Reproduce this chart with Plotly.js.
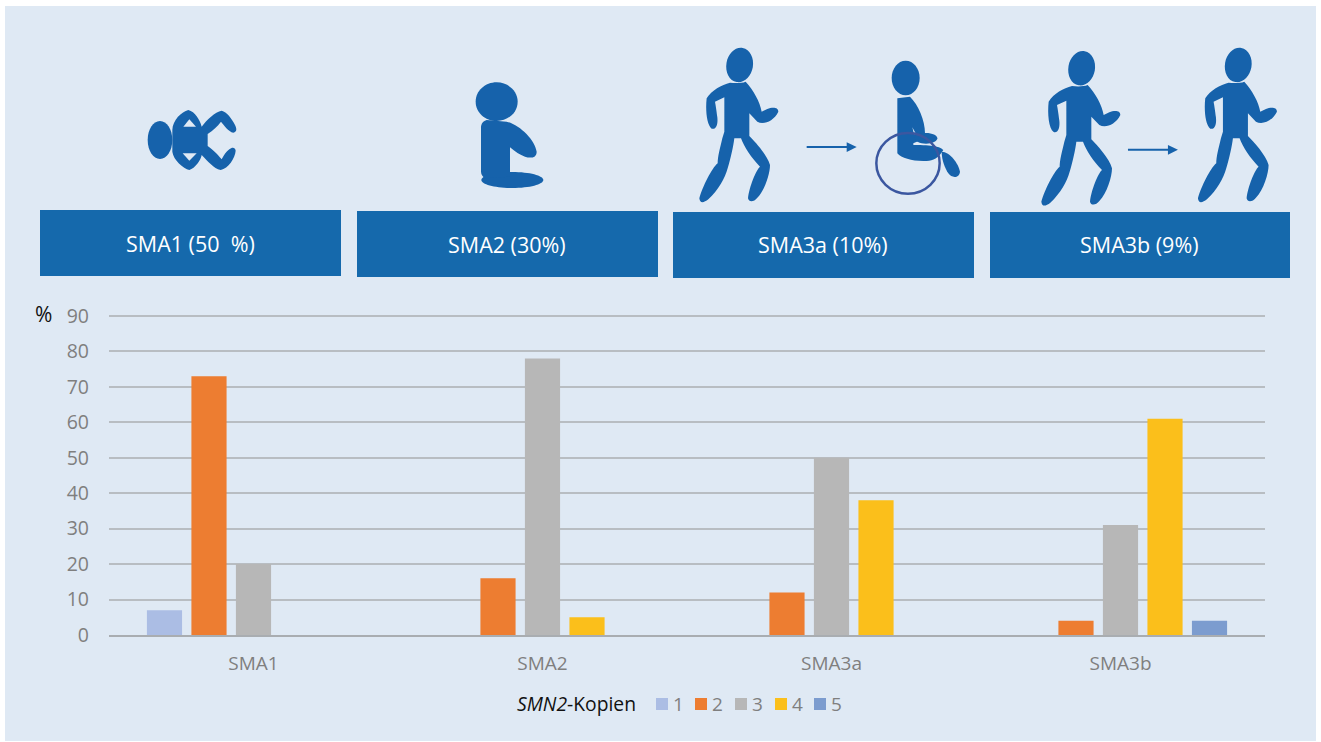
<!DOCTYPE html>
<html><head><meta charset="utf-8">
<script src="https://cdn.plot.ly/plotly-3.0.1.min.js"></script>
<style>html,body{margin:0;padding:0;background:#fff}#c{width:1321px;height:742px}</style>
</head><body><div id="c"></div>
<script>
const categories = ['SMA1','SMA2','SMA3a','SMA3b'];
const copies1 = [7,null,null,null];
const copies2 = [73,16,12,4];
const copies3 = [20,78,50,31];
const copies4 = [null,5,38,61];
const copies5 = [null,null,null,4];
const seriesNames = ['1','2','3','4','5'];
const seriesColors = ['#abbde4','#ed7d31','#b7b7b7','#fbbf1b','#7c9ccf'];
const headerLabels = ['SMA1 (50  %)','SMA2 (30%)','SMA3a (10%)','SMA3b (9%)'];
const tickVals = [0,10,20,30,40,50,60,70,80,90];

const W=1321,H=742,L=109,R=1265,T=312,B=635;
const BG='#dfe9f4',BLUE='#1662ab',HDR='#1569ac';
const fx=x=>(x-L)/(R-L), fy=y=>(B-y)/(B-T);
// path given in crop coordinates (3x, origin ox,oy), converted to paper fractions
function conv(d,ox,oy){
  return d.replace(/(-?[\d.]+)[ ,]+(-?[\d.]+)/g,(m,a,b)=>fx(ox+a/3)+','+fy(oy+b/3));
}
function ell(cx,cy,rx,ry,rot){
  const k=0.5523,r=(rot||0)*Math.PI/180,c=Math.cos(r),s=Math.sin(r);
  const p=(u,v)=>(cx+u*c-v*s)+' '+(cy+u*s+v*c);
  return 'M'+p(rx,0)+'C'+p(rx,k*ry)+' '+p(k*rx,ry)+' '+p(0,ry)+
    'C'+p(-k*rx,ry)+' '+p(-rx,k*ry)+' '+p(-rx,0)+
    'C'+p(-rx,-k*ry)+' '+p(-k*rx,-ry)+' '+p(0,-ry)+
    'C'+p(k*rx,-ry)+' '+p(rx,-k*ry)+' '+p(rx,0)+'Z';
}
const shapes=[];
function fill(d,ox,oy,col){shapes.push({type:'path',xref:'paper',yref:'paper',path:conv(d,ox,oy),fillcolor:col||BLUE,line:{width:0},layer:'below'});}
function stroke(d,ox,oy,col,w){shapes.push({type:'path',xref:'paper',yref:'paper',path:conv(d,ox,oy),fillcolor:'rgba(0,0,0,0)',line:{color:col,width:w},layer:'below'});}
function rect(x0,y0,x1,y1,col){shapes.push({type:'rect',xref:'paper',yref:'paper',x0:fx(x0),x1:fx(x1),y0:fy(y1),y1:fy(y0),fillcolor:col,line:{width:0},layer:'below'});}

rect(5,6,1316,741,BG);
[[40,210,341,276],[357,211,658,277],[673,212,974,278],[990,212,1290,278]].forEach(r=>rect(r[0],r[1],r[2],r[3],HDR));

// fetus
fill(ell(180,330,37,57,0),100,30);
fill('M265 240C245 245 218 270 217 300L217 365C220 390 250 415 268 420C285 415 303 390 305 375C325 395 340 415 362 420C385 415 405 385 407 362C405 350 395 352 388 358C378 365 372 375 365 388C350 370 340 360 323 348L323 312C340 300 352 290 363 275C372 285 385 305 400 308C412 305 410 295 405 285C395 265 380 245 365 242C345 245 320 270 305 290C300 270 285 245 265 240Z',100,30);
fill('M268 268L250 290L288 290Z',100,30,BG);
fill('M248 370L290 370L268 392Z',100,30,BG);
// sitting child
fill(ell(1190,215,63,58,0),100,30);
fill(ell(1237,450,93,24,0),100,30);
fill('M1160 270C1145 275 1143 285 1143 295L1143 425C1143 435 1150 440 1155 445L1230 440L1230 352C1245 365 1260 375 1275 380C1290 385 1310 385 1310 365C1305 330 1260 285 1220 275Z',100,30);
// runner
const runnerBody='M150 158C125 165 95 180 80 205C76 240 80 285 95 296C110 300 114 280 112 262C110 245 107 225 105 215L133 202L133 305L127 325C120 355 113 380 113 400C95 415 68 470 58 505C60 522 72 518 85 508C115 480 135 445 143 415C152 385 160 350 163 325L183 325C192 350 215 385 240 410C228 420 208 470 204 505C207 518 222 516 232 503C255 480 270 430 270 405C262 375 225 335 208 318L208 250L232 275C250 285 280 275 295 245C295 230 275 232 262 237L245 245C240 215 220 180 197 155C185 160 165 160 150 158Z';
const runnerHead=ell(179,105,40,52,10);
[[680,30],[1022,33.3],[1178.6,30]].forEach(o=>{fill(runnerHead,o[0],o[1]);fill(runnerBody,o[0],o[1]);});
// arrows
[[680,30],[1001.3,32.7]].forEach(o=>{
  stroke('M380 351L505 351',o[0],o[1],BLUE,2);
  fill('M500 337L530 351L500 366Z',o[0],o[1]);
});
// wheelchair
fill(ell(677,144,42,52,0),680,30);
fill('M652 205L690 200C715 225 735 270 735 310L735 325L700 340L700 345C760 345 780 350 790 360C775 385 760 392 740 393C700 395 665 385 652 370Z',680,30);
fill(ell(738,325,34,16,0),680,30);
fill('M697 292L708 312L702 313Z',680,30,BG);
fill('M785 365C810 365 835 400 840 425C838 445 815 445 805 430C795 415 785 390 785 365Z',680,30);
stroke(ell(684,400,95,91,0),680,30,'#3b57a0',2.5);

const txt=(t,x,y,anchor,size,color)=>({xref:'paper',yref:'paper',x:fx(x),y:fy(y),text:t,showarrow:false,xanchor:anchor,yanchor:'middle',font:{color,size}});
const annotations=headerLabels.map((t,i)=>txt(t,[190.5,507,823,1139.5][i],[243,244,244.5,244.5][i],'center',21.5,'#fff'));
annotations.push(txt('%',43.5,314,'center',21,'#111'));
// legend row
annotations.push(txt('<i>SMN2</i>-Kopien',515,703.5,'left',19.3,'#111'));
const swatchX=[656,695,735,775,814];
seriesNames.forEach((n,i)=>{
  rect(swatchX[i],698,swatchX[i]+12,710,seriesColors[i]);
  annotations.push(txt(n,swatchX[i]+15,703.5,'left',19,'#7f7f7f'));
});

const data=[copies1,copies2,copies3,copies4,copies5].map((v,i)=>({type:'bar',x:categories,y:v,name:seriesNames[i],marker:{color:seriesColors[i],line:{width:0}},hoverinfo:'x+y+name'}));

Plotly.newPlot('c',data,{
  width:W,height:H,autosize:false,
  margin:{l:L,r:W-R,t:T,b:H-B,pad:0},
  paper_bgcolor:'#fff',plot_bgcolor:'rgba(0,0,0,0)',
  font:{family:'"Open Sans",sans-serif',color:'#7f7f7f',size:19},
  barmode:'group',bargap:0.23,bargroupgap:0.21,showlegend:false,
  xaxis:{type:'category',showgrid:false,ticks:'',showline:true,linecolor:'#a9adb1',linewidth:2,tickfont:{size:19,color:'#7f7f7f'},ticklabelstandoff:10,zeroline:false,range:[-0.5,3.5]},
  yaxis:{range:[0,91.13],tickmode:'array',tickvals:tickVals,showgrid:true,gridcolor:'#b8bdc2',gridwidth:2,zeroline:false,ticks:'',tickfont:{size:19.5,color:'#7f7f7f'},ticklabelstandoff:19,showline:false},
  shapes,annotations
},{displayModeBar:false,staticPlot:true});
</script></body></html>
